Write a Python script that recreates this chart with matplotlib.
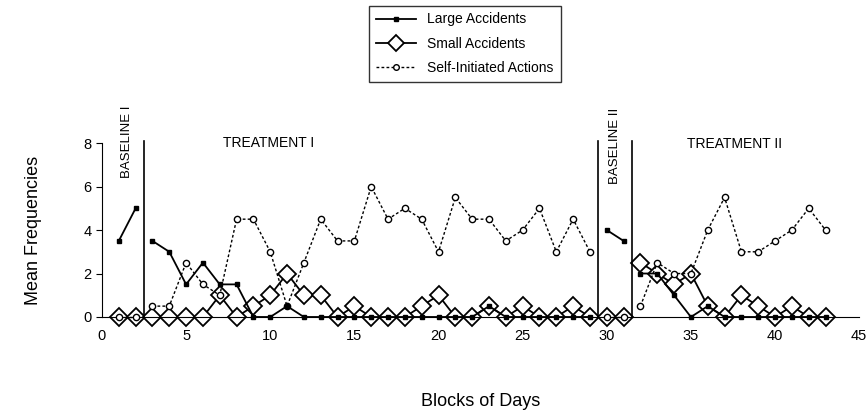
import matplotlib

matplotlib.use("Agg")
import numpy as np
import matplotlib.pyplot as plt

plt.rcParams["font.family"] = ["Liberation Sans", "DejaVu Sans"]

# ---- data ----
days = np.arange(1, 44)

large = [3.5, 5.0,
         3.5, 3.0, 1.5, 2.5, 1.5, 1.5, 0, 0, 0.5, 0, 0, 0, 0, 0, 0, 0, 0, 0,
         0, 0, 0.5, 0, 0, 0, 0, 0, 0,
         4.0, 3.5,
         2.0, 2.0, 1.0, 0, 0.5, 0, 0, 0, 0, 0, 0, 0]

small = [0, 0,
         0, 0, 0, 0, 1.0, 0, 0.5, 1.0, 2.0, 1.0, 1.0, 0, 0.5, 0, 0, 0, 0.5, 1.0,
         0, 0, 0.5, 0, 0.5, 0, 0, 0.5, 0,
         0, 0,
         2.5, 2.0, 1.5, 2.0, 0.5, 0, 1.0, 0.5, 0, 0.5, 0, 0]

self_init = [0, 0,
             0.5, 0.5, 2.5, 1.5, 1.0, 4.5, 4.5, 3.0, 0.5, 2.5, 4.5, 3.5, 3.5, 6.0,
             4.5, 5.0, 4.5, 3.0, 5.5, 4.5, 4.5, 3.5, 4.0, 5.0, 3.0, 4.5, 3.0,
             0, 0,
             0.5, 2.5, 2.0, 2.0, 4.0, 5.5, 3.0, 3.0, 3.5, 4.0, 5.0, 4.0]

# phase boundaries (index slices) and labels
phases = [(0, 2), (2, 29), (29, 31), (31, 43)]
phase_lines = [2.5, 29.5, 31.5]
phase_labels = ["BASELINE I", "TREATMENT I", "BASELINE II", "TREATMENT II"]

large = np.array(large)
small = np.array(small)
self_init = np.array(self_init)

fig = plt.figure(figsize=(8.67, 4.16), dpi=100)
ax = fig.add_axes([0.1176, 0.238, 0.8734, 0.418])

for i, (a, b) in enumerate(phases):
    lab = i == 0
    ax.plot(days[a:b], self_init[a:b], color="black", lw=1.0, ls=(0, (2, 1.6)),
            marker="o", ms=4.5, mfc="white", mec="black", mew=1.0,
            label="Self-Initiated Actions" if lab else None, zorder=3,
            clip_on=False)
    ax.plot(days[a:b], small[a:b], color="black", lw=1.3,
            marker="D", ms=9, mfc="white", mec="black", mew=1.3,
            label="Small Accidents" if lab else None, zorder=2,
            clip_on=False)
    ax.plot(days[a:b], large[a:b], color="black", lw=1.3,
            marker="s", ms=3.5, mfc="black", mec="black",
            label="Large Accidents" if lab else None, zorder=4,
            clip_on=False)

for xl in phase_lines:
    ax.plot([xl, xl], [0, 8.1], color="black", lw=1.2, clip_on=False)

ax.text(1.5, 6.4, phase_labels[0], rotation=90, ha="center", va="bottom", fontsize=9.5)
ax.text(9.9, 8.0, phase_labels[1], ha="center", va="center", fontsize=10)
ax.text(30.5, 6.1, phase_labels[2], rotation=90, ha="center", va="bottom", fontsize=9.5)
ax.text(37.6, 7.95, phase_labels[3], ha="center", va="center", fontsize=10)

ax.set_xlim(0, 45)
ax.set_ylim(0, 8)
ax.set_xticks(np.arange(0, 46, 5))
ax.set_yticks(np.arange(0, 9, 2))
ax.tick_params(axis="x", length=0, pad=9, labelsize=10.5)
ax.tick_params(axis="y", length=4, direction="out", labelsize=10.5)
ax.spines["top"].set_visible(False)
ax.spines["right"].set_visible(False)

ax.set_xlabel("Blocks of Days", fontsize=13, labelpad=36)
ax.set_ylabel("Mean Frequencies", fontsize=13, labelpad=30)

handles, labels = ax.get_legend_handles_labels()
order = [labels.index("Large Accidents"), labels.index("Small Accidents"),
         labels.index("Self-Initiated Actions")]
leg = fig.legend([handles[i] for i in order], [labels[i] for i in order],
                 loc="upper center", bbox_to_anchor=(0.536, 1.0),
                 borderaxespad=0.4,
                 fancybox=False, edgecolor="black", fontsize=10,
                 handlelength=2.9, borderpad=0.5, labelspacing=0.75,
                 markerscale=0.9)
leg.get_frame().set_linewidth(1.0)

fig.savefig("out.png", dpi=100)
